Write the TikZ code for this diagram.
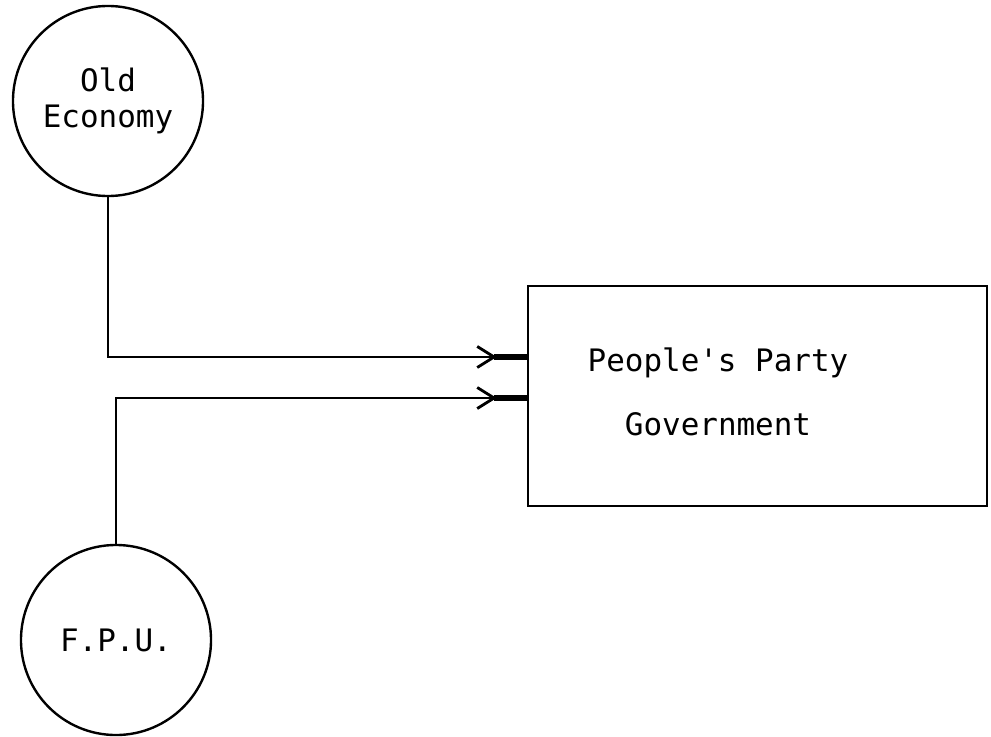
\documentclass[tikz,border=0pt]{standalone}
\usepackage{fontspec}
\usepackage{tikz}
\usetikzlibrary{arrows.meta,decorations.markings}
\newfontfamily\typefont{DejaVu Sans Mono}

\begin{document}
\begin{tikzpicture}[x=0.025cm, y=-0.025cm,
    party/.style={draw, circle, line width=1.7pt, minimum size=4.75cm, inner sep=0pt,
                  align=center, font=\typefont\fontsize{22}{26}\selectfont},
    govbox/.style={draw, rectangle, line width=1.7pt, minimum width=11.475cm, minimum height=5.5cm},
    govlabel/.style={align=center, font=\typefont\fontsize{22}{46}\selectfont},
    conn/.style={line width=1.7pt, postaction={decorate},
                 decoration={markings, mark=at position -0.75cm with
                   {\arrow{Straight Barb[length=12pt,width=15pt,line width=2pt]}
                    \draw[line width=3.6pt] (-2pt,0) -- (0.75cm,0);}}}]

    \useasboundingbox (0,0) rectangle (991,736);

    % the two circles
    \node[party] (old) at (108,101) {Old\\Economy};
    \node[party] (fpu) at (116,640) {F.P.U.};

    % the government box
    \node[govbox] (gov) at (757.5,396) {};
    \node[govlabel] (govtext) at (718,392) {People's Party\\Government};

    % entry points on the box
    \coordinate (in1) at ([yshift=0.975cm]gov.west);
    \coordinate (in2) at ([yshift=-0.05cm]gov.west);

    \draw[conn] (old.south) |- (in1);
    \draw[conn] (fpu.north) |- (in2);

\end{tikzpicture}
\end{document}
